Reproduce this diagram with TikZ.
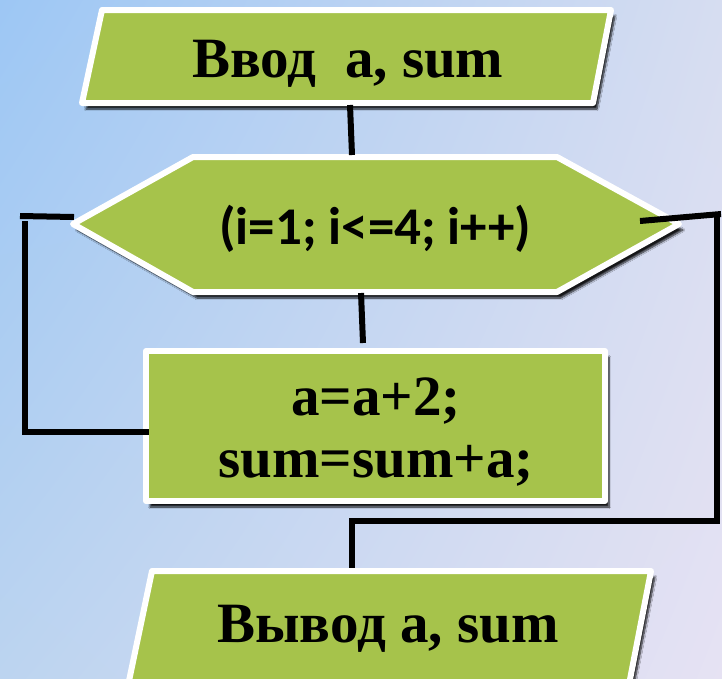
\documentclass[tikz,border=0pt]{standalone}
\usepackage{fontspec}
\setmainfont{Liberation Serif}
\newfontfamily\calib{Carlito}
\usetikzlibrary{shadings,shadows.blur}
\definecolor{bgA}{HTML}{9DC7F4}
\definecolor{bgB}{HTML}{D6DDF1}
\definecolor{bgC}{HTML}{BCD4F0}
\definecolor{bgD}{HTML}{E6E2F3}
\definecolor{leaf}{HTML}{A6C34B}
\tikzset{
  block/.style={fill=leaf, draw=white, line width=6pt, line join=round,
    blur shadow={shadow xshift=4pt, shadow yshift=-6pt, shadow blur steps=8, shadow opacity=90}},
  wire/.style={line width=6pt, black},
  label/.style={text=black, align=center, inner sep=0pt},
  serifbig/.style={font=\fontsize{57}{62}\bfseries\selectfont},
}
\begin{document}
\begin{tikzpicture}[x=1pt, y=-1pt]
% backdrop
\shade[upper left=bgA, upper right=bgB, lower left=bgC, lower right=bgD]
  (0,0) rectangle (722,678);
\useasboundingbox (0,0) rectangle (722,678);

% blocks
\begin{scope}
\clip (0,0) rectangle (722,678);
\draw[block] (102,10) -- (611,10) -- (593,103) -- (82,103) -- cycle;
\draw[block] (193,157) -- (557,157) -- (679,224) -- (557,292) -- (193,292) -- (73,224) -- cycle;
\draw[block] (146,351) rectangle (605,501);
\draw[block] (152,571) -- (651,571) -- (626,700) -- (125,700) -- cycle;
\end{scope}

% texts
\node[label, serifbig, anchor=base] (inp) at (348,77) {Ввод\ \ a, sum};
\node[label, font=\fontsize{53}{53}\calib\bfseries\selectfont, anchor=base] (loop) at (375,244) {(i=1; i<=4; i++)};
\node[label, serifbig] (body) at (376,432) {a=a+2;\\sum=sum+a;};
\node[label, serifbig, anchor=base] (outp) at (388,642) {Вывод a, sum};

% connection points
\coordinate (inpS) at (350,105);
\coordinate (loopN) at (352,155);
\coordinate (loopS) at (361,293);
\coordinate (bodyN) at (363,343);
\coordinate (loopW) at (74,217);
\coordinate (leftEnd) at (20,216);
\coordinate (leftTop) at (25,221);
\coordinate (bodyW) at (149,432);
\coordinate (loopE) at (640,221);
\coordinate (rightEnd) at (721,214);
\coordinate (rightTop) at (717,216);
\coordinate (outpN) at (352,568);

% connectors
\draw[wire] (inpS) -- (loopN);
\draw[wire] (loopS) -- (bodyN);
\draw[wire] (leftEnd) -- (loopW);
\draw[wire, line join=miter] (leftTop) -- (leftTop |- bodyW) -- (bodyW);
\draw[wire] (loopE) -- (rightEnd);
\draw[wire, line join=miter] (rightTop) -- (717,521) -- (outpN |- 0,521) -- (outpN);
\end{tikzpicture}
\end{document}
